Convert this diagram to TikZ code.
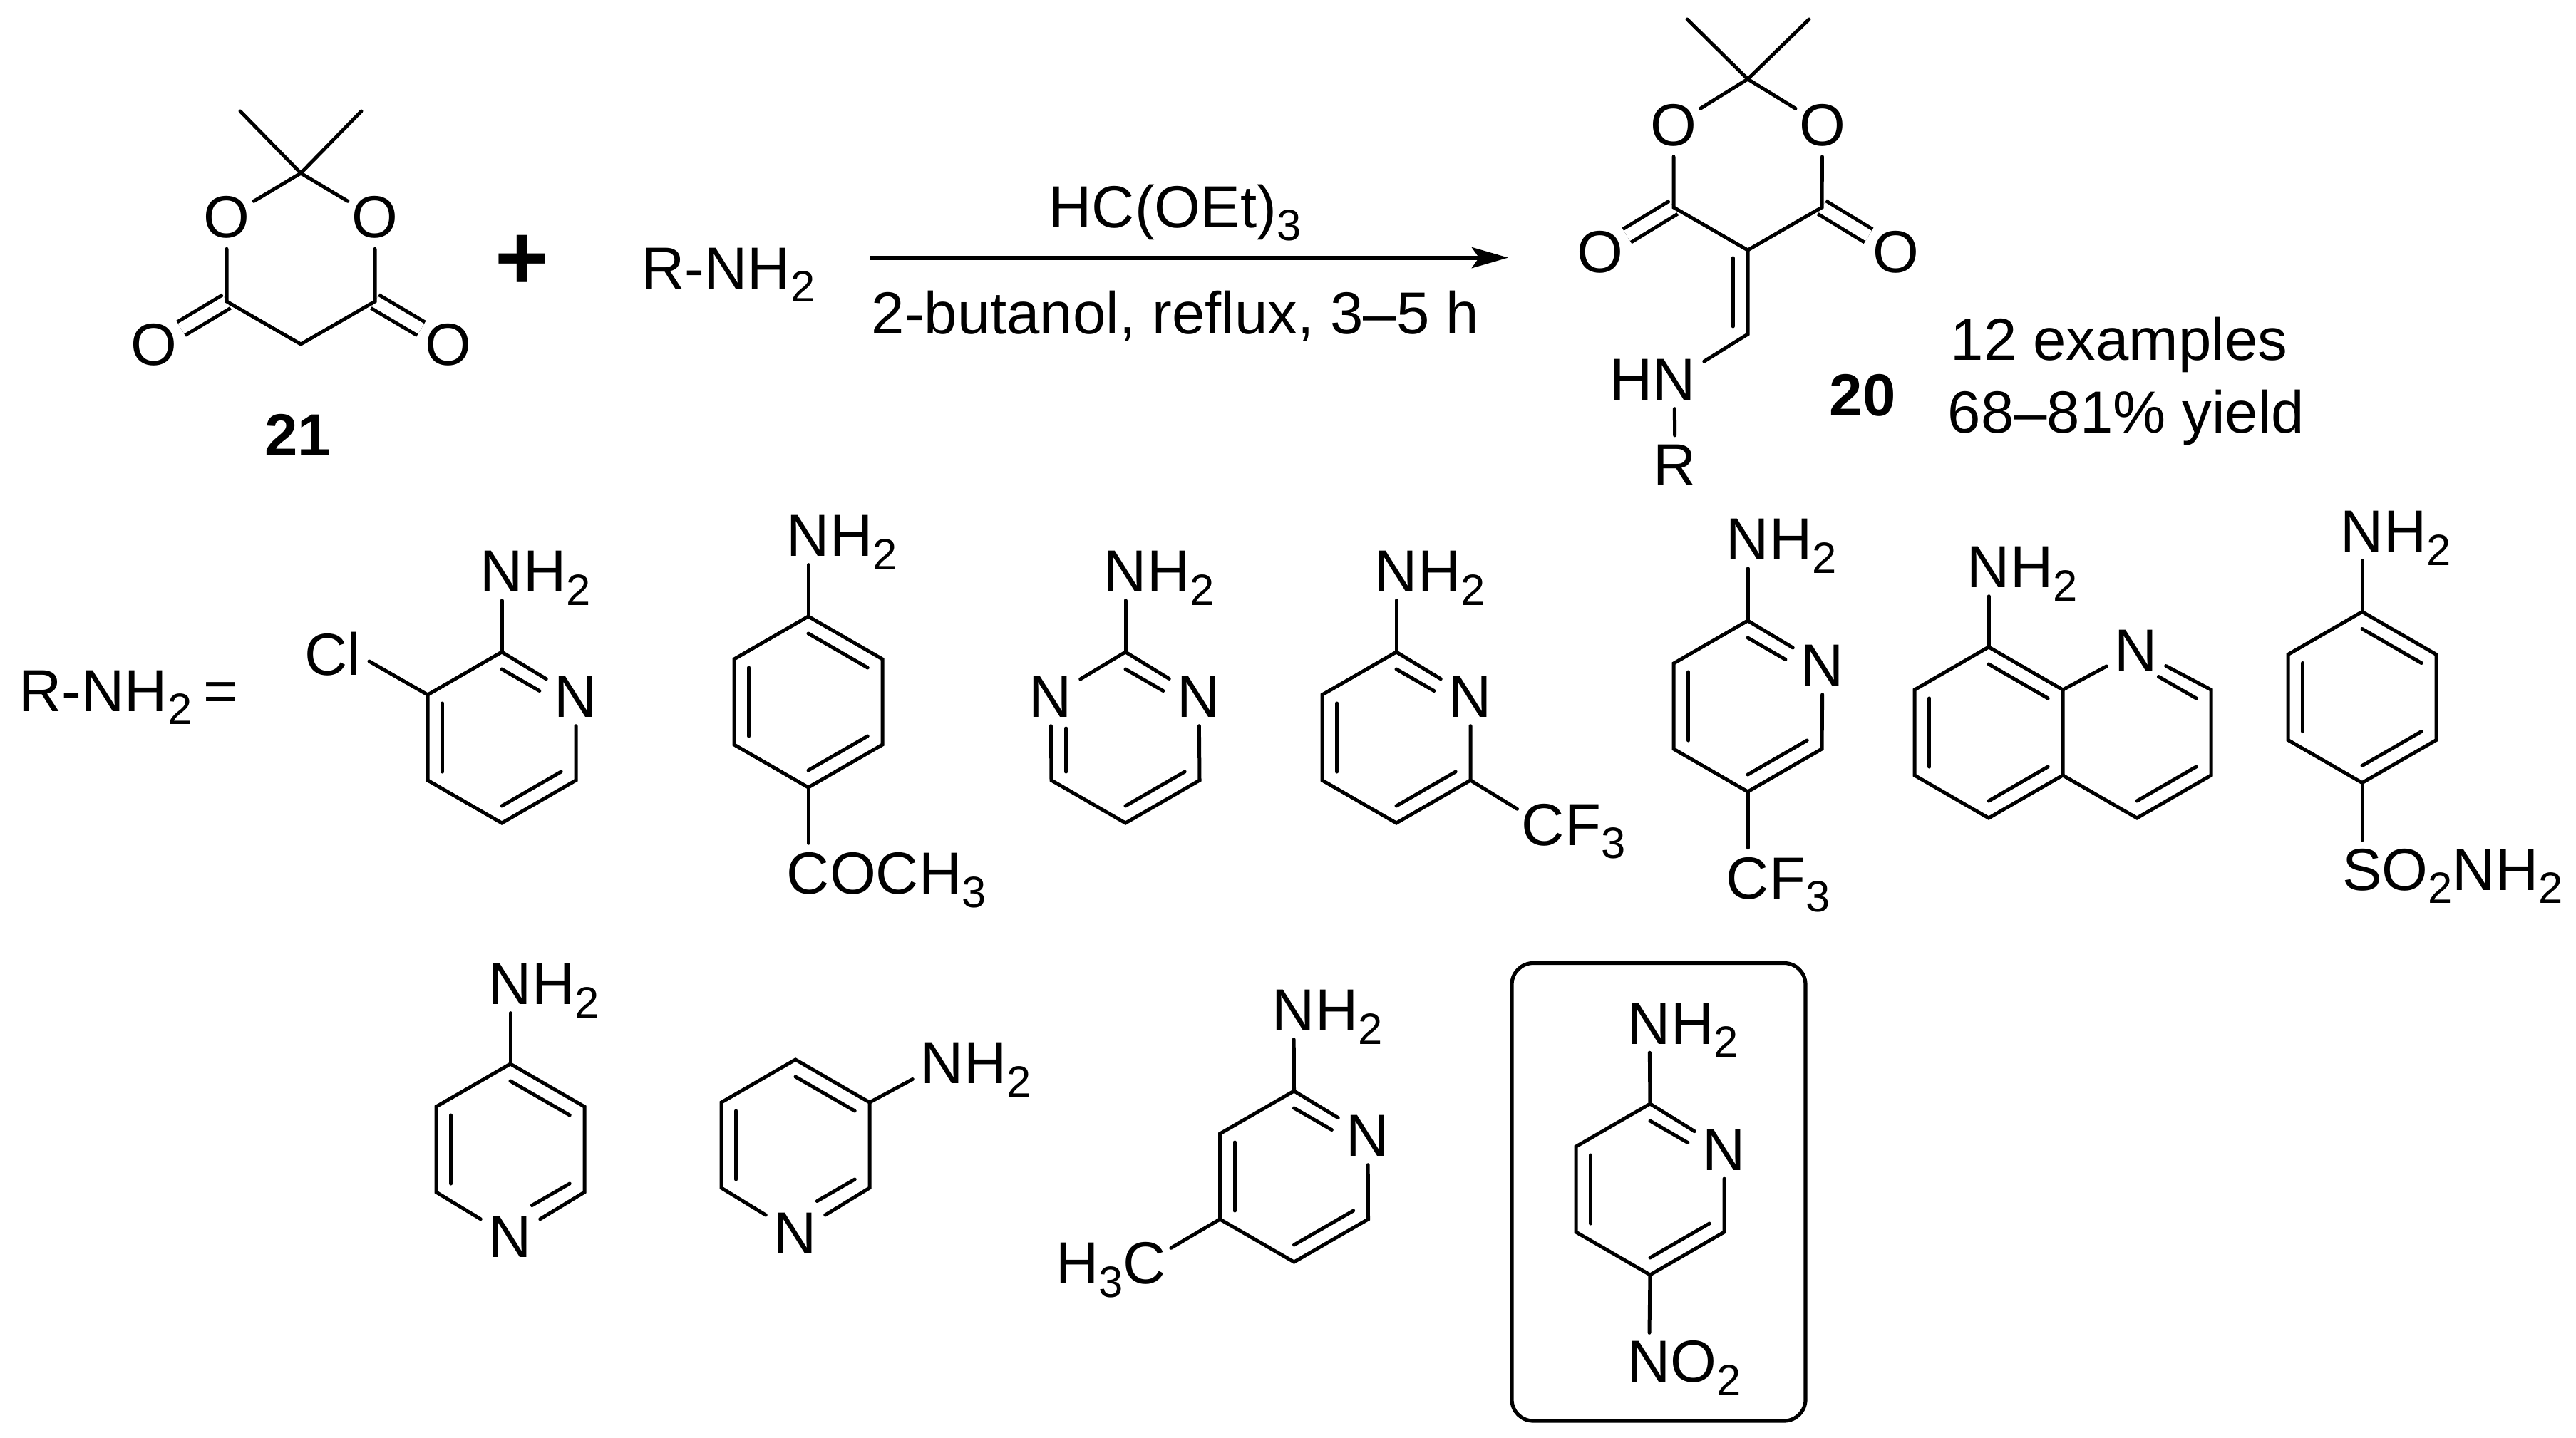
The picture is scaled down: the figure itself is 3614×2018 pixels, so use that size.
\documentclass[tikz,border=0pt]{standalone}
\usepackage{fontspec}
\setmainfont{Liberation Sans}
\usetikzlibrary{calc, arrows.meta}

\newcommand{\chemsub}[1]{\raisebox{-0.22em}{\fontsize{17.5}{17.5}\selectfont #1}}
\newcommand{\tailr}[1]{\rlap{\smash{#1}}}
\newcommand{\taill}[1]{\llap{\smash{#1}}}
% ring vertices, clockwise from the top: name, centre x, centre y
\newcommand{\hexring}[3]{
    \coordinate (#1) at (#2,#3);
    \coordinate (#1-1) at (#2,#3-120);
    \coordinate (#1-2) at (#2+104,#3-60);
    \coordinate (#1-3) at (#2+104,#3+60);
    \coordinate (#1-4) at (#2,#3+120);
    \coordinate (#1-5) at (#2-104,#3+60);
    \coordinate (#1-6) at (#2-104,#3-60);
}
% inner line of a ring double bond: [options], ring, vertex, vertex
\newcommand{\inbond}[4][]{\draw[bond,#1] ($(#2-#3)!.2!(#2)$) -- ($(#2-#4)!.2!(#2)$);}

\tikzset{
    bond/.style={line width=.05cm, line cap=round, line join=miter},
    cut/.style={shorten >=.35cm},
    dblbond/.style={bond, line cap=butt, double, double distance=.165cm},
    rxnarrow/.style={line width=.06cm, -{Stealth[length=.51cm, width=.29cm, inset=.1cm]}},
    atom/.style={circle, inner sep=0pt, minimum size=.82cm},
    natom/.style={rectangle, inner sep=0pt, minimum width=.82cm, minimum height=.8cm},
    txt/.style={inner sep=0pt, anchor=base west},
    cpdno/.style={inner sep=0pt, anchor=base, font=\fontsize{23.7}{28}\selectfont\bfseries},
    framebox/.style={line width=.052cm, rounded corners=.3cm}
}

\begin{document}
\begin{tikzpicture}[x=.01cm, y=-.01cm, font=\fontsize{23.7}{28}\selectfont]
    \useasboundingbox (0,0) rectangle (3614,2018);

    % REAGENT 21
    \hexring{mel}{422}{363}
    \node[atom] (melOa) at (318,305) {O};
    \node[atom] (melOb) at (526,305) {O};
    \node[atom] (melOc) at (216,484) {O};
    \node[atom] (melOd) at (629,484) {O};
    \coordinate (melMea) at (337,156);
    \coordinate (melMeb) at (507,156);
    \draw[dblbond] (mel-5) -- (melOc);
    \draw[dblbond] (mel-3) -- (melOd);
    \draw[bond] (melOa) -- (mel-1) -- (melOb) -- (mel-3) -- (mel-4) -- (mel-5) -- (melOa);
    \draw[bond] (melMea) -- (mel-1) -- (melMeb);
    \node[cpdno] (numa) at (418,639) {21};

    \node[font=\fontsize{37}{40}\selectfont\bfseries, inner sep=0pt] (plus) at (732,368) {+};
    \node[txt] (amine) at (900,405) {R-NH\chemsub{2}};

    % ARROW and conditions
    \coordinate (arrowStart) at (1221,361.6);
    \coordinate (arrowEnd) at (2116,361.6);
    \draw[rxnarrow] (arrowStart) -- (arrowEnd);
    \node[txt] (reagent) at (1471,319) {HC(OEt)\chemsub{3}};
    \node[txt] (solvent) at (1222,468.7) {2-butanol, reflux, 3–5 h};

    % PRODUCT 20
    \hexring{prod}{2452}{231}
    \node[atom] (prodOa) at (2348,175.6) {O};
    \node[atom] (prodOb) at (2556.7,175.6) {O};
    \node[atom] (prodOc) at (2244.6,354) {O};
    \node[atom] (prodOd) at (2659.4,354) {O};
    \coordinate (prodMea) at (2367,27);
    \coordinate (prodMeb) at (2538,27);
    \coordinate (prodCH) at (2452,469);
    \node[natom] (prodN) at (2349,533) {\taill{H}N};
    \node[atom] (prodR) at (2350,653) {R};
    \draw[dblbond] (prod-5) -- (prodOc);
    \draw[dblbond] (prod-3) -- (prodOd);
    \draw[bond] (prodOa) -- (prod-1) -- (prodOb) -- (prod-3) -- (prod-4) -- (prod-5) -- (prodOa);
    \draw[bond] (prodMea) -- (prod-1) -- (prodMeb);
    \draw[bond] (prod-4) -- (prodCH) -- (prodN) -- (prodR);
    \draw[bond] ($(prod-4)+(-21,11)$) -- ($(prodCH)+(-21,-11)$);
    \node[cpdno] (numb) at (2613,583.5) {20};
    \node[txt] (scopeA) at (2736,505.8) {12 examples};
    \node[txt] (scopeB) at (2732,607) {68–81\% yield};

    % R-NH2 list, first row
    \node[txt] (listhead) at (26,998) {R-NH\chemsub{2}\hspace{.2em}=};

    \hexring{clpy}{704}{1035}
    \node[natom] (clpyN) at (808,978) {N};
    \node[inner sep=0pt] (clpyCl) at (467,918) {Cl};
    \coordinate (clpyClEnd) at (518,928);
    \draw[bond] (clpy-6) -- (clpyClEnd);
    \draw[bond] (clpyN) -- (clpy-3) -- (clpy-4) -- (clpy-5) -- (clpy-6) -- (clpy-1) -- (clpyN);
    \inbond[cut]{clpy}{1}{2}
    \inbond{clpy}{5}{6}
    \inbond{clpy}{3}{4}

    \hexring{acet}{1134}{985}
    \node[atom] (acetC) at (1134,1226) {C\tailr{OCH\chemsub{3}}};
    \draw[bond] (acet-1) -- (acet-2) -- (acet-3) -- (acet-4) -- (acet-5) -- (acet-6) -- cycle;
    \draw[bond] (acet-4) -- (acetC);
    \inbond{acet}{1}{2}
    \inbond{acet}{5}{6}
    \inbond{acet}{3}{4}

    \hexring{pyrim}{1579}{1035}
    \node[natom] (pyrimNa) at (1474,978) {N};
    \node[natom] (pyrimNb) at (1682,978) {N};
    \draw[bond] (pyrimNa) -- (pyrim-1) -- (pyrimNb) -- (pyrim-3) -- (pyrim-4) -- (pyrim-5) -- (pyrimNa);
    \inbond[cut]{pyrim}{1}{2}
    \inbond[cut]{pyrim}{5}{6}
    \inbond{pyrim}{3}{4}

    \hexring{tfsix}{1959}{1035}
    \node[natom] (tfsixN) at (2063,978) {N};
    \node[atom] (tfsixC) at (2165,1157.6) {C\tailr{F\chemsub{3}}};
    \draw[bond] (tfsix-3) -- (tfsixC);
    \draw[bond] (tfsixN) -- (tfsix-3) -- (tfsix-4) -- (tfsix-5) -- (tfsix-6) -- (tfsix-1) -- (tfsixN);
    \inbond[cut]{tfsix}{1}{2}
    \inbond{tfsix}{5}{6}
    \inbond{tfsix}{3}{4}

    \hexring{tffive}{2452}{991}
    \node[natom] (tffiveN) at (2557,934) {N};
    \node[atom] (tffiveC) at (2452,1232.6) {C\tailr{F\chemsub{3}}};
    \draw[bond] (tffive-4) -- (tffiveC);
    \draw[bond] (tffiveN) -- (tffive-3) -- (tffive-4) -- (tffive-5) -- (tffive-6) -- (tffive-1) -- (tffiveN);
    \inbond[cut]{tffive}{1}{2}
    \inbond{tffive}{5}{6}
    \inbond{tffive}{3}{4}

    \hexring{quina}{2790}{1028}
    \hexring{quinb}{2998}{1028}
    \node[natom] (quinN) at (2997,912.5) {N};
    \draw[bond] (quina-1) -- (quina-2) -- (quina-3) -- (quina-4) -- (quina-5) -- (quina-6) -- cycle;
    \draw[bond] (quina-2) -- (quinN) -- (quinb-2) -- (quinb-3) -- (quinb-4) -- (quina-3);
    \inbond{quina}{1}{2}
    \inbond{quina}{5}{6}
    \inbond{quina}{3}{4}
    \inbond[shorten <=.35cm]{quinb}{1}{2}
    \inbond{quinb}{3}{4}

    \hexring{sulf}{3314}{978.5}
    \node[atom] (sulfS) at (3314,1220.5) {S\tailr{O\chemsub{2}NH\chemsub{2}}};
    \draw[bond] (sulf-1) -- (sulf-2) -- (sulf-3) -- (sulf-4) -- (sulf-5) -- (sulf-6) -- cycle;
    \draw[bond] (sulf-4) -- (sulfS);
    \inbond{sulf}{1}{2}
    \inbond{sulf}{5}{6}
    \inbond{sulf}{3}{4}

    % second row
    \hexring{pyf}{716}{1613}
    \node[natom] (pyfN) at (716,1736) {N};
    \draw[bond] (pyfN) -- (pyf-3) -- (pyf-2) -- (pyf-1) -- (pyf-6) -- (pyf-5) -- (pyfN);
    \inbond{pyf}{1}{2}
    \inbond{pyf}{5}{6}
    \inbond[cut]{pyf}{3}{4}

    \hexring{pyt}{1116}{1607}
    \node[natom] (pytN) at (1116,1730.5) {N};
    \draw[bond] (pytN) -- (pyt-3) -- (pyt-2) -- (pyt-1) -- (pyt-6) -- (pyt-5) -- (pytN);
    \inbond{pyt}{1}{2}
    \inbond{pyt}{5}{6}
    \inbond[cut]{pyt}{3}{4}

    \hexring{mepy}{1815.5}{1651}
    \node[natom] (mepyN) at (1919,1594) {N};
    \node[atom] (mepyC) at (1606,1773) {\taill{H\chemsub{3}}C};
    \draw[bond] (mepy-5) -- (mepyC);
    \draw[bond] (mepyN) -- (mepy-3) -- (mepy-4) -- (mepy-5) -- (mepy-6) -- (mepy-1) -- (mepyN);
    \inbond[cut]{mepy}{1}{2}
    \inbond{mepy}{5}{6}
    \inbond{mepy}{3}{4}

    % boxed amine
    \draw[framebox] (2121,1351.5) rectangle (2533,1994);
    \hexring{nitpy}{2315}{1669}
    \node[natom] (nitpyN) at (2419,1613.5) {N};
    \node[natom] (nitpyNO) at (2313.5,1911) {N\tailr{O\chemsub{2}}};
    \draw[bond] (nitpy-4) -- (nitpyNO);
    \draw[bond] (nitpyN) -- (nitpy-3) -- (nitpy-4) -- (nitpy-5) -- (nitpy-6) -- (nitpy-1) -- (nitpyN);
    \inbond[cut]{nitpy}{1}{2}
    \inbond{nitpy}{5}{6}
    \inbond{nitpy}{3}{4}

    % all the amino groups
    \foreach \ring/\nm/\x/\y in {clpy/clpyNH/704/802, acet/acetNH/1134/752, pyrim/pyrimNH/1579/802,
        tfsix/tfsixNH/1959/802, tffive/tffiveNH/2452/757, quina/quinNH/2790/796, sulf/sulfNH/3314/746,
        pyf/pyfNH/716/1381, mepy/mepyNH/1815/1418, nitpy/nitpyNH/2314/1436.5} {
        \node[natom] (\nm) at (\x,\y) {N\tailr{H\chemsub{2}}};
        \draw[bond] (\ring-1) -- (\nm);
    }
    \node[natom] (pytNH) at (1322,1492) {N\tailr{H\chemsub{2}}};
    \draw[bond] (pyt-2) -- (pytNH);
\end{tikzpicture}
\end{document}
